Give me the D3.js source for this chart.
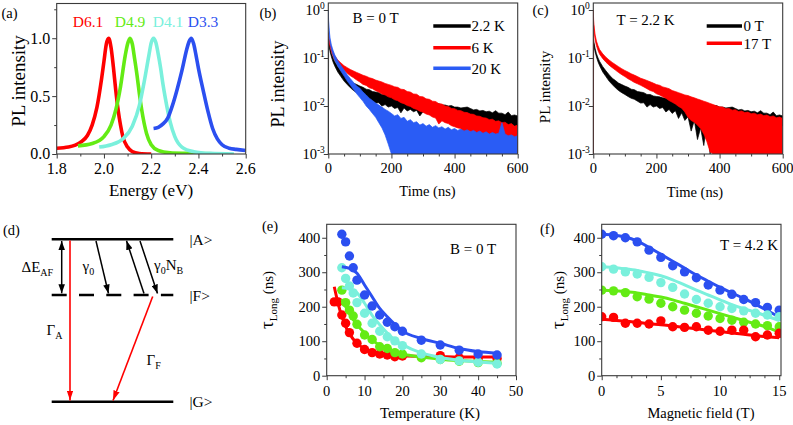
<!-- chart rebuild v5: PL spectra / decays / lifetimes -->
<!DOCTYPE html>
<html lang="en"><head><meta charset="utf-8"><title>PL figure v5</title>
<script src="https://cdn.jsdelivr.net/npm/d3@7/dist/d3.min.js"></script>
<style>html,body{margin:0;padding:0;background:#ffffff;}</style>
</head><body>
<svg id="figure5" width="793" height="425"></svg>
<script>
// ---------------- DATA ----------------
// (a) PL spectra
const d61E = [1.80,1.85,1.90,1.93,1.95,1.97,1.99,2.00,2.01,2.02,2.03,2.04,2.05,2.06,2.07,2.08,2.10,2.12,2.15,2.20];
const d61I = [0.05,0.06,0.10,0.16,0.25,0.40,0.65,0.80,0.95,1.00,0.92,0.75,0.55,0.38,0.25,0.15,0.06,0.02,0.005,0.0];
const d49E = [1.89,1.95,2.00,2.03,2.05,2.07,2.09,2.10,2.11,2.12,2.13,2.14,2.15,2.16,2.18,2.20,2.23,2.28,2.35,2.52];
const d49I = [0.07,0.09,0.15,0.25,0.38,0.58,0.85,0.95,1.00,0.95,0.82,0.68,0.52,0.38,0.18,0.08,0.03,0.01,0.005,0.0];
const d41E = [1.98,2.03,2.08,2.12,2.15,2.17,2.19,2.20,2.21,2.22,2.23,2.24,2.25,2.26,2.28,2.30,2.33,2.38,2.45,2.55];
const d41I = [0.06,0.08,0.13,0.24,0.42,0.62,0.85,0.96,1.00,0.96,0.86,0.74,0.60,0.48,0.28,0.15,0.06,0.02,0.005,0.0];
const d33E = [2.21,2.23,2.25,2.27,2.29,2.31,2.33,2.35,2.36,2.37,2.38,2.39,2.40,2.42,2.44,2.46,2.48,2.50,2.53,2.56,2.60];
const d33I = [0.22,0.23,0.26,0.31,0.42,0.56,0.72,0.90,0.97,1.00,0.95,0.85,0.74,0.55,0.37,0.22,0.13,0.08,0.05,0.04,0.03];
const specNames = ["D6.1","D4.9","D4.1","D3.3"];
const xTicksA = [1.8,2.0,2.2,2.4,2.6];
const yTicksA = [0.0,0.5,1.0];

// (b),(c) PL decays: time grid and noise envelopes (upper / lower)
const tGrid = [0,1,3,6,10,15,20,30,40,50,60,70,80,90,100,110,120,130,140,150,160,170,180,190,200,210,220,230,240,250,260,270,280,290,300,310,320,330,340,350,360,370,380,390,400,410,420,430,440,450,460,470,480,490,500,510,520,530,540,550,560,570,580,590,600];
const k22Top = [0.25,0.234,0.195,0.155,0.123,0.100,0.085,
 0.066,0.054,0.045,0.038,0.034,0.030,0.028,0.026,
 0.0245,0.0224,0.0219,0.020,0.0195,0.019,0.0174,0.0174,0.0162,0.0158,
 0.0155,0.0148,0.0145,0.0141,0.0138,0.0142,0.0129,0.0132,0.0123,0.0120,
 0.0117,0.0120,0.0112,0.0110,0.0112,0.0105,0.0105,0.0100,0.0102,0.0095,
 0.0095,0.0091,0.0093,0.0095,0.0089,0.0083,0.0085,0.0079,0.0081,0.0076,
 0.0078,0.0072,0.0080,0.0071,0.0071,0.0066,0.0075,0.0063,0.0065,0.0062];
const k22Bot = [0.001,0.20,0.166,0.132,0.105,0.083,0.069,
 0.051,0.041,0.033,0.028,0.024,0.021,0.019,0.0174,
 0.0158,0.0145,0.0138,0.0126,0.0115,0.0117,0.0100,0.0107,0.0095,0.010,
 0.0089,0.0093,0.0072,0.0091,0.0079,0.0085,0.0076,0.0081,0.0062,0.0076,
 0.0072,0.0069,0.0072,0.0066,0.0068,0.0065,0.0063,0.0065,0.0060,0.0060,
 0.0058,0.0058,0.0055,0.0055,0.0052,0.0052,0.0050,0.0050,0.0048,0.0049,
 0.0046,0.0047,0.0044,0.0044,0.0042,0.0043,0.0040,0.0041,0.0038,0.0039];
const k6Top = [0.34,0.295,0.245,0.200,0.158,0.132,0.112,
 0.091,0.079,0.069,0.063,0.0575,0.0537,0.050,0.0468,
 0.0437,0.0417,0.0389,0.0372,0.0347,0.0331,0.0316,0.0295,0.0282,0.0269,
 0.0251,0.0245,0.0224,0.0220,0.0200,0.0195,0.0178,0.0176,0.0158,0.0155,
 0.0141,0.0138,0.0126,0.0124,0.0112,0.0110,0.0100,0.0098,0.0089,0.0088,
 0.0081,0.0080,0.0074,0.0073,0.0068,0.0067,0.0062,0.0061,0.0057,0.0056,
 0.0052,0.0053,0.0048,0.0049,0.0045,0.0046,0.0041,0.0043,0.0038,0.0040];
const k6Bot = [0.28,0.25,0.209,0.170,0.135,0.110,0.093,
 0.074,0.063,0.055,0.048,0.0427,0.0389,0.0347,0.0316,
 0.0282,0.0269,0.0240,0.0229,0.0209,0.0195,0.0178,0.0170,0.0155,0.0148,
 0.0135,0.0129,0.0117,0.0112,0.0102,0.0098,0.0089,0.0085,0.0078,0.0074,
 0.0068,0.0065,0.0059,0.0056,0.0042,0.0049,0.0045,0.0043,0.0039,0.0037,
 0.0035,0.0034,0.0027,0.0031,0.0029,0.0028,0.0022,0.0026,0.0024,0.0024,
 0.0022,0.0018,0.0021,0.0020,0.0019,0.0016,0.0018,0.0017,0.0016,0.0010];
const k20Top = [1.0,0.60,0.37,0.25,0.185,0.145,0.118,
 0.088,0.070,0.056,0.045,0.037,0.031,0.026,0.0235,
 0.0195,0.0170,0.0145,0.0130,0.0115,0.0105,0.0095,0.0085,0.0078,0.0070,
 0.0062,0.0066,0.0055,0.0058,0.0048,0.0052,0.0045,0.0047,0.0040,0.0043,
 0.0038,0.0041,0.0036,0.0039,0.0035,0.0037,0.0033,0.0036,0.0032,0.0034,
 0.0031,0.0033,0.0030,0.0032,0.0029,0.0031,0.0028,0.0030,0.0027,0.0029,
 0.0026,0.0028,0.0026,0.0027,0.0045,0.0026,0.0024,0.0025,0.0023,0.0024];
const k20Bot = [0.80,0.48,0.30,0.20,0.15,0.115,0.092,
 0.068,0.053,0.042,0.033,0.027,0.022,0.018,0.0150,
 0.0125,0.0100,0.0085,0.0070,0.0058,0.0045,0.0035,0.0025,0.0016,0.0008,
 0.0008,0.0008,0.0008,0.0008,0.0008,0.0008,0.0008,0.0008,0.0008,0.0008,
 0.0008,0.0008,0.0008,0.0008,0.0008,0.0008,0.0008,0.0008,0.0008,0.0008,
 0.0008,0.0008,0.0008,0.0008,0.0008,0.0008,0.0008,0.0008,0.0008,0.0008,
 0.0008,0.0008,0.0008,0.0008,0.0008,0.0008,0.0008,0.0008,0.0008,0.0008];
// (c) 0 T trace: same upper envelope as 2.2 K in (b); lower envelope shows the deep dips
const b0Top = k22Top;
const b0Bot = [0.001,0.20,0.166,0.132,0.105,0.083,0.069,
 0.051,0.041,0.033,0.028,0.024,0.021,0.019,0.0174,
 0.0158,0.0145,0.0138,0.0126,0.0115,0.0117,0.0095,0.0107,0.0095,0.010,
 0.0089,0.0093,0.0075,0.0085,0.0070,0.0080,0.0055,0.0072,0.0050,0.0060,
 0.0030,0.0050,0.0020,0.0035,0.0015,0.0045,0.0009,0.0030,0.0008,0.0040,
 0.0030,0.0050,0.0045,0.0052,0.0042,0.0050,0.0048,0.0046,0.0044,0.0047,
 0.0044,0.0045,0.0040,0.0042,0.0041,0.0043,0.0038,0.0041,0.0037,0.0039];
const b17Top = [1.0,0.62,0.42,0.30,0.225,0.18,0.15,
 0.122,0.104,0.091,0.081,0.073,0.066,0.060,0.055,
 0.051,0.047,0.044,0.041,0.038,0.036,0.034,0.032,0.030,0.028,
 0.027,0.025,0.024,0.023,0.021,0.020,0.019,0.018,0.017,0.0165,
 0.0155,0.0148,0.0140,0.0133,0.0126,0.0120,0.0113,0.0107,0.0101,0.0096,
 0.0095,0.0088,0.0089,0.0082,0.0084,0.0077,0.0079,0.0073,0.0075,0.0069,
 0.0071,0.0066,0.0068,0.0063,0.0065,0.0060,0.0062,0.0057,0.0059,0.0055];
const b17Bot = [0.001,0.48,0.33,0.235,0.18,0.143,0.12,
 0.097,0.082,0.071,0.063,0.056,0.050,0.045,0.041,
 0.037,0.034,0.031,0.029,0.027,0.025,0.023,0.021,0.020,0.018,
 0.017,0.0155,0.0145,0.013,0.012,0.011,0.0098,0.009,0.0075,0.0058,
 0.0050,0.0046,0.0040,0.0034,0.0026,0.0018,0.0011,0.0008,0.0010,0.0008,
 0.0008,0.0008,0.0008,0.0008,0.0008,0.0008,0.0008,0.0008,0.0008,0.0008,
 0.0008,0.0008,0.0008,0.0008,0.0008,0.0008,0.0008,0.0008,0.0008,0.0008];
const decayTicksX = [0,200,400,600];
const decayTicksY = [1e-3,1e-2,1e-1,1];
const decayExp = ["-3","-2","-1","0"];
const legendB = ["2.2 K","6 K","20 K"];
const legendC = ["0 T","17 T"];

// (e) tau_long vs temperature
const eT      = [4,5,6,7,8,10,12,14,16,18,20,25,30,35,40,45];
const eBlue   = [410,388,347,313,277,234,202,176,155,142,129,103,89,74,63,60];
const eCyan   = [313,282,260,240,212,181,152,129,113,101,87,63,47,43,39,34];
const eGreen  = [248,212,190,173,149,118,105,84,79,67,63,52,47,42,38,36];
const eRedT   = [2,3,4,5,6,8,10,12,14,16,18,20,25,30,35,40,45];
const eRed    = [214,214,176,152,125,94,76,67,63,60,55,57,55,58,52,50,50];
const eFitT   = [4,6,8,10,12,14,16,18,20,25,30,35,40,45];
const eBlueFit  = [316,311,297,263,229,195,171,149,130,108,94,79,70,65];
const eCyanFit  = [255,252,240,210,175,148,124,104,90,66,53,45,40,36];
const eGreenFit = [222,180,148,124,104,88,77,69,63,54,48,44,41,39];
const eRedFitT  = [2,3,4,5,6,8,10,12,14,16,20,25,30,35,40,45];
const eRedFit   = [258,210,172,143,122,94,78,69,64,61,58,56,55,54,54,54];

// (f) tau_long vs magnetic field
const fB     = [0,1,2,3,4,5,6,7,8,9,10,11,12,13,14,15];
const fBlue  = [410,406,400,388,364,343,319,301,284,263,248,236,221,212,198,190];
const fCyan  = [316,309,301,295,285,270,256,237,221,210,200,195,188,181,176,171];
const fGreen = [248,246,241,229,222,210,200,190,181,173,166,161,155,150,145,142];
const fRed   = [171,169,152,152,150,159,142,140,142,132,129,132,132,113,118,123];
const fBlueFit  = [410,408,402,390,372,352,332,312,292,274,256,240,224,207,189,170];
const fCyanFit  = [316,314,310,305,298,290,278,263,248,234,220,206,194,184,172,160];
const fGreenFit = [248,247,244,240,234,228,220,210,200,190,180,170,160,150,140,126];
const fRedFit   = [164,161,158,155,151,148,144,140,136,132,128,124,120,116,113,110];

// ---------------- STYLE ----------------
const SERIF = '"Liberation Serif"';
const AX = '#3a3a3a';
const C = {red:'#ff0000', green:'#64eb14', cyan:'#7af0dc', blue:'#2b4ff0', black:'#000000', blueB:'#2a5cf5'};

const svg = d3.select('#figure5');
svg.append('rect').attr('width',793).attr('height',425).attr('fill','#fff');
const defs = svg.append('defs');

function txt(x, y, s, size, o = {}) {
  const t = svg.append('text').attr('x', x).attr('y', y).attr('font-size', size)
    .attr('fill', o.fill || '#000');
  t.style('font-family', SERIF);
  if (o.anchor) t.attr('text-anchor', o.anchor);
  if (o.rot != null) t.attr('transform', `rotate(${o.rot},${x},${y})`);
  if (s != null) t.text(s);
  return t;
}
function frame(x, y) {
  const [x0, x1] = x.range(), [yb, yt] = y.range();
  svg.append('rect').attr('x', x0).attr('y', yt).attr('width', x1 - x0).attr('height', yb - yt)
    .attr('fill', 'none').attr('stroke', AX).attr('stroke-width', 1.1);
}
function clip(id, x, y) {
  const [x0, x1] = x.range(), [yb, yt] = y.range();
  defs.append('clipPath').attr('id', id).append('rect')
    .attr('x', x0).attr('y', yt).attr('width', x1 - x0).attr('height', yb - yt);
  return svg.append('g').attr('clip-path', `url(#${id})`);
}
// tick marks drawn with d3 axes; labels drawn as separate serif texts
function axisX(x, yb, majors, minors, fmt, off, size) {
  if (minors.length) {
    const gm = svg.append('g').attr('transform', `translate(0,${yb})`)
      .call(d3.axisBottom(x).tickValues(minors).tickSize(2.5).tickFormat(''));
    gm.select('.domain').remove(); gm.selectAll('line').attr('stroke', AX);
  }
  const g = svg.append('g').attr('transform', `translate(0,${yb})`)
    .call(d3.axisBottom(x).tickValues(majors).tickSize(4.5).tickFormat(''));
  g.select('.domain').remove(); g.selectAll('line').attr('stroke', AX);
  g.selectAll('text').remove();
  if (fmt) majors.forEach(v => txt(x(v), yb + off, fmt(v), size, {anchor: 'middle'}));
}
function axisY(y, xl, majors, minors, fmt, size) {
  if (minors.length) {
    const gm = svg.append('g').attr('transform', `translate(${xl},0)`)
      .call(d3.axisLeft(y).tickValues(minors).tickSize(2.5).tickFormat(''));
    gm.select('.domain').remove(); gm.selectAll('line').attr('stroke', AX);
  }
  const g = svg.append('g').attr('transform', `translate(${xl},0)`)
    .call(d3.axisLeft(y).tickValues(majors).tickSize(4.5).tickFormat(''));
  g.select('.domain').remove(); g.selectAll('line').attr('stroke', AX);
  g.selectAll('text').remove();
  if (fmt) majors.forEach(v => txt(xl - 6.5, y(v) + size * 0.34, fmt(v), size, {anchor: 'end'}));
}
function logLabels(y, xl) {
  decayTicksY.forEach((v, i) => {
    const t = txt(xl - 3.5, y(v) + 5, null, 14.5, {anchor: 'end'});
    t.append('tspan').text('10');
    t.append('tspan').attr('font-size', 9.5).attr('dy', -6.5).text(decayExp[i]);
  });
}

// ---------------- (a) ----------------
const xA = d3.scaleLinear().domain([1.8, 2.6]).range([56.7, 245.7]);
const yA = d3.scaleLinear().domain([0, 1.3]).range([154, 3.5]);
const gA = clip('clipA', xA, yA);
const specs = [[d61E, d61I, C.red], [d49E, d49I, C.green], [d41E, d41I, C.cyan], [d33E, d33I, C.blue]];
const lineA = d3.line().x(d => xA(d[0])).y(d => yA(d[1])).curve(d3.curveMonotoneX);
specs.forEach(([E, I, col]) => {
  gA.append('path').attr('d', lineA(E.map((e, i) => [e, I[i]])))
    .attr('fill', 'none').attr('stroke', col).attr('stroke-width', 3.6).attr('stroke-linejoin', 'round');
});
frame(xA, yA);
axisX(xA, 154, xTicksA, [1.9, 2.1, 2.3, 2.5], d3.format('.1f'), 20, 16);
axisY(yA, 56.7, yTicksA, [0.25, 0.75, 1.25], d3.format('.1f'), 16);
[[88, C.red], [130, C.green], [168, C.cyan], [203, C.blue]].forEach(([xx, col], i) =>
  txt(xx, 27, specNames[i], 15.5, {anchor: 'middle', fill: col}));
txt(151, 196, 'Energy (eV)', 17, {anchor: 'middle'});
txt(24.5, 81, 'PL intensity', 19, {anchor: 'middle', rot: -90});
txt(1.5, 17.5, '(a)', 14.5);

// ---------------- decay panel helper ----------------
function decayPanel(id, x, y, series) {
  const g = clip(id, x, y);
  series.forEach(([top, bot, col]) => {
    const data = tGrid.map((t, i) => ({t, hi: top[i], lo: bot[i]}));
    const area = d3.area().x(d => x(d.t)).y0(d => y(d.lo)).y1(d => y(d.hi));
    g.append('path').attr('d', area(data)).attr('fill', col)
      .attr('stroke', col).attr('stroke-width', 0.7).attr('stroke-linejoin', 'round');
  });
  frame(x, y);
  axisX(x, 154, decayTicksX, [50,100,150,250,300,350,450,500,550], d3.format('d'), 19, 14.5);
  axisY(y, x.range()[0], decayTicksY, [], null, 14.5);
  logLabels(y, x.range()[0]);
}

// ---------------- (b) ----------------
const xB = d3.scaleLinear().domain([0, 600]).range([328.3, 517.7]);
const yB = d3.scaleLog().domain([1e-3, 1.4]).range([154, 3]).clamp(true);
decayPanel('clipB', xB, yB, [[k22Top, k22Bot, C.black], [k6Top, k6Bot, C.red], [k20Top, k20Bot, C.blueB]]);
txt(352.5, 22.5, 'B = 0 T', 15);
[[C.black, 26], [C.red, 47.7], [C.blueB, 68.3]].forEach(([col, yy], i) => {
  svg.append('line').attr('x1', 433.3).attr('x2', 470.7).attr('y1', yy).attr('y2', yy)
    .attr('stroke', col).attr('stroke-width', 3.5);
  txt(471.5, yy + 5.3, legendB[i], 15);
});
txt(427.5, 195.5, 'Time (ns)', 14.5, {anchor: 'middle'});
txt(283.5, 84, 'PL intensity', 18, {anchor: 'middle', rot: -90});
txt(259.5, 17.5, '(b)', 14.5);

// ---------------- (c) ----------------
const xC = d3.scaleLinear().domain([0, 600]).range([593.3, 782.7]);
const yC = d3.scaleLog().domain([1e-3, 1.4]).range([154, 3]).clamp(true);
decayPanel('clipC', xC, yC, [[b0Top, b0Bot, C.black], [b17Top, b17Bot, C.red]]);
txt(616.5, 24.5, 'T = 2.2 K', 15);
[[C.black, 26], [C.red, 43.3]].forEach(([col, yy], i) => {
  svg.append('line').attr('x1', 706.7).attr('x2', 742).attr('y1', yy).attr('y2', yy)
    .attr('stroke', col).attr('stroke-width', 3.5);
  txt(743.5, yy + 5.3, legendC[i], 15);
});
txt(695, 197, 'Time (ns)', 14.5, {anchor: 'middle'});
txt(549.5, 87, 'PL intensity', 15, {anchor: 'middle', rot: -90});
txt(532.5, 14.5, '(c)', 14.5);

// ---------------- (d) level diagram ----------------
const mk = (id, col, w, h) => {
  defs.append('marker').attr('id', id).attr('viewBox', '0 0 10 10').attr('refX', 10).attr('refY', 5)
    .attr('markerWidth', w).attr('markerHeight', h).attr('markerUnits', 'userSpaceOnUse')
    .attr('orient', 'auto-start-reverse').attr('preserveAspectRatio', 'none')
    .append('path').attr('d', 'M0,0 L10,5 L0,10 Z').attr('fill', col);
};
mk('arK', '#000', 9, 6.5); mk('arR', '#ff0000', 10, 6.5);
const lev = {x0: 51.7, x1: 173.3, A: 239.3, F: 295, G: 401.7};
const seg = (x1, y1, x2, y2, col, w, dash) => {
  const l = svg.append('line').attr('x1', x1).attr('y1', y1).attr('x2', x2).attr('y2', y2)
    .attr('stroke', col).attr('stroke-width', w);
  if (dash) l.attr('stroke-dasharray', dash);
  return l;
};
seg(lev.x0, lev.A, lev.x1, lev.A, '#000', 2.4);
seg(lev.x0, lev.F, lev.x1, lev.F, '#000', 2.4, '15,12.3');
seg(lev.x0, lev.G, lev.x1, lev.G, '#000', 2.4);
seg(61.7, 241, 61.7, 293.3, '#000', 1.5).attr('marker-start', 'url(#arK)').attr('marker-end', 'url(#arK)');
seg(96, 241, 108.5, 293.5, '#000', 1.5).attr('marker-end', 'url(#arK)');
seg(144, 293.5, 126.5, 240.8, '#000', 1.5).attr('marker-end', 'url(#arK)');
seg(140, 241, 157.5, 293.5, '#000', 1.5).attr('marker-end', 'url(#arK)');
seg(70, 240.5, 70, 400.5, '#ff0000', 1.6).attr('marker-end', 'url(#arR)');
seg(152.7, 296.5, 113, 400.5, '#ff0000', 1.6).attr('marker-end', 'url(#arR)');
txt(189.5, 245, '|A>', 15.5); txt(189.5, 301, '|F>', 15.5); txt(189.5, 407, '|G>', 15.5);
let t = txt(21.5, 271.5, null, 15); t.append('tspan').text('ΔE'); t.append('tspan').attr('font-size', 10).attr('dy', 4).text('AF');
t = txt(82.5, 271, null, 15); t.append('tspan').text('γ'); t.append('tspan').attr('font-size', 10).attr('dy', 4).text('0');
t = txt(154, 270, null, 15); t.append('tspan').text('γ'); t.append('tspan').attr('font-size', 10).attr('dy', 4).text('0');
t.append('tspan').attr('dy', -4).text('N'); t.append('tspan').attr('font-size', 10).attr('dy', 4).text('B');
t = txt(46.5, 335, null, 15); t.append('tspan').text('Γ'); t.append('tspan').attr('font-size', 10).attr('dy', 4).text('A');
t = txt(146.5, 365, null, 15); t.append('tspan').text('Γ'); t.append('tspan').attr('font-size', 10).attr('dy', 4).text('F');
txt(3, 235, '(d)', 14.5);

// ---------------- (e),(f) helper ----------------
function tauPanel(id, x, y, groups, xMaj, xMin) {
  const g = clip(id, x, y);
  const ln = d3.line().x(d => x(d[0])).y(d => y(d[1])).curve(d3.curveMonotoneX);
  groups.forEach(({px, py, fx, fy, col}) => {
    g.append('path').attr('d', ln(fx.map((v, i) => [v, fy[i]]))).attr('fill', 'none')
      .attr('stroke', col).attr('stroke-width', 3);
    g.selectAll(null).data(px.map((v, i) => [v, py[i]])).enter().append('circle')
      .attr('cx', d => x(d[0])).attr('cy', d => y(d[1])).attr('r', 4.7).attr('fill', col);
  });
  frame(x, y);
  axisX(x, 375.7, xMaj, xMin, d3.format('d'), 20, 14.5);
  axisY(y, x.range()[0], [0, 100, 200, 300, 400], [50, 150, 250, 350], d3.format('d'), 14.5);
}
function tauTitle(xx) {
  const tt = txt(xx, 300, null, 15, {anchor: 'middle', rot: -90});
  tt.append('tspan').attr('font-size', 19).text('τ');
  tt.append('tspan').attr('font-size', 11).attr('dy', 4).text('Long');
  tt.append('tspan').attr('dy', -4).text(' (ns)');
}

// ---------------- (e) ----------------
const xE = d3.scaleLinear().domain([0, 50]).range([326.7, 516]);
const yE = d3.scaleLinear().domain([0, 439]).range([375.7, 224.3]);
tauPanel('clipE', xE, yE, [
  {px: eRedT, py: eRed, fx: eRedFitT, fy: eRedFit, col: C.red},
  {px: eT, py: eGreen, fx: eFitT, fy: eGreenFit, col: C.green},
  {px: eT, py: eCyan, fx: eFitT, fy: eCyanFit, col: C.cyan},
  {px: eT, py: eBlue, fx: eFitT, fy: eBlueFit, col: C.blue}
], [0, 10, 20, 30, 40, 50], [5, 15, 25, 35, 45]);
txt(450, 254, 'B = 0 T', 15);
txt(430, 418, 'Temperature (K)', 15, {anchor: 'middle'});
tauTitle(272.5);
txt(262, 231, '(e)', 14.5);

// ---------------- (f) ----------------
const xF = d3.scaleLinear().domain([0, 15.15]).range([601.7, 781]);
const yF = d3.scaleLinear().domain([0, 439]).range([375.7, 224.3]);
tauPanel('clipF', xF, yF, [
  {px: fB, py: fBlue, fx: fB, fy: fBlueFit, col: C.blue},
  {px: fB, py: fCyan, fx: fB, fy: fCyanFit, col: C.cyan},
  {px: fB, py: fGreen, fx: fB, fy: fGreenFit, col: C.green},
  {px: fB, py: fRed, fx: fB, fy: fRedFit, col: C.red}
], [0, 5, 10, 15], [1.25, 2.5, 3.75, 6.25, 7.5, 8.75, 11.25, 12.5, 13.75]);
txt(720, 250, 'T = 4.2 K', 15);
txt(701, 418, 'Magnetic field (T)', 14.5, {anchor: 'middle'});
tauTitle(563.5);
txt(540, 234, '(f)', 14.5);
</script>
</body></html>
